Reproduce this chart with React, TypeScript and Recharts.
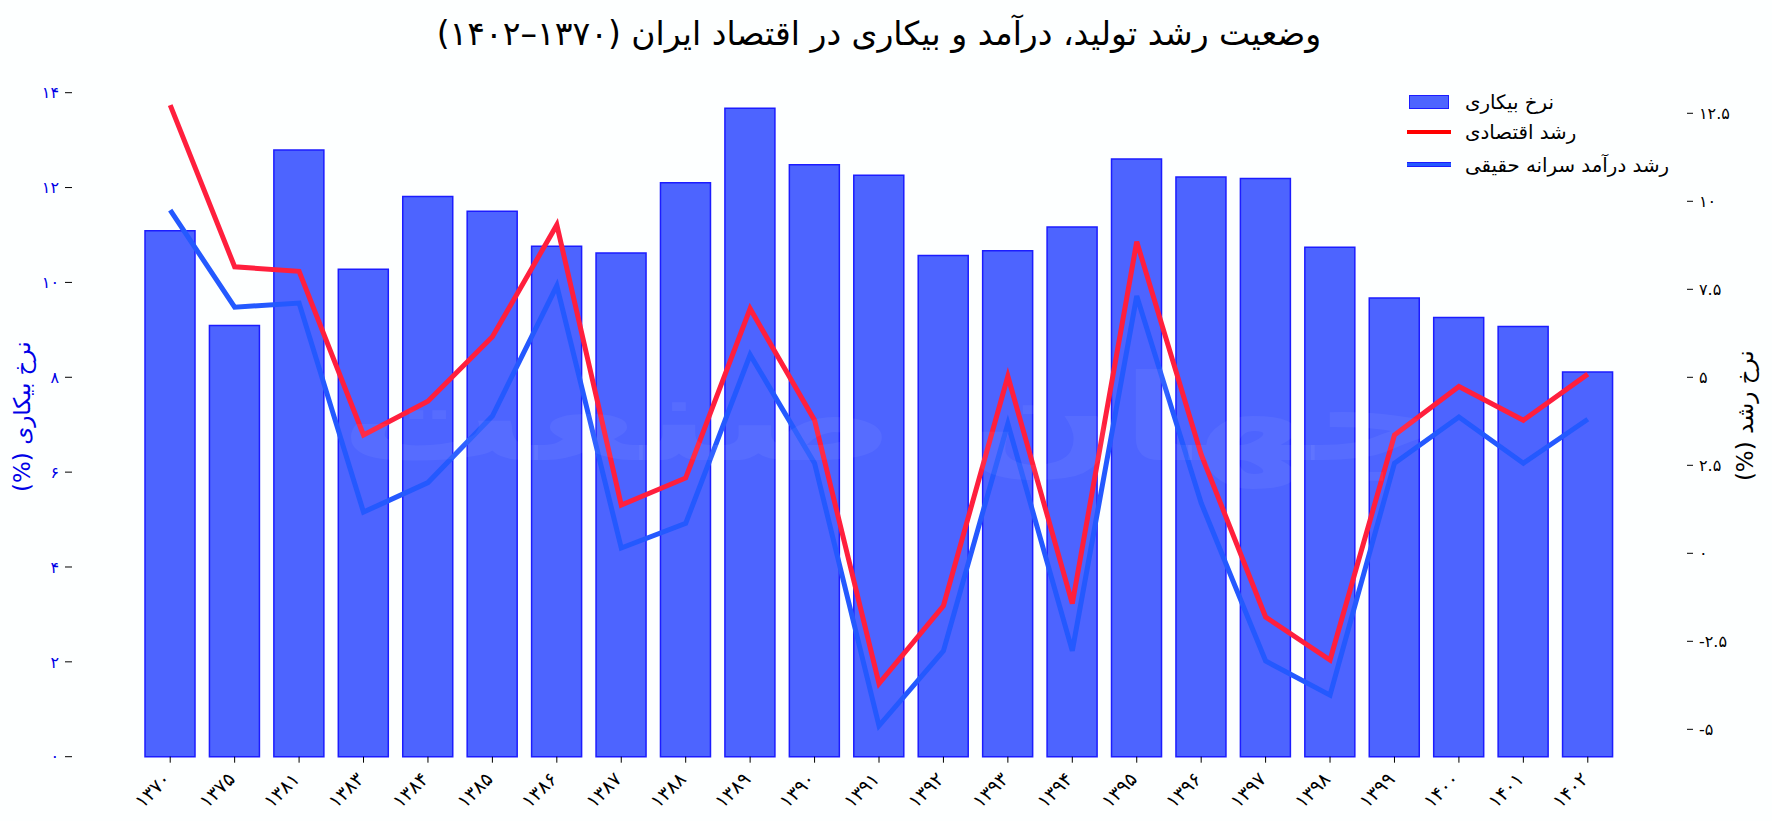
import { Bar, ComposedChart, Line, XAxis, YAxis } from 'recharts';

const years = ['۱۳۷۰', '۱۳۷۵', '۱۳۸۱', '۱۳۸۳', '۱۳۸۴', '۱۳۸۵', '۱۳۸۶', '۱۳۸۷', '۱۳۸۸', '۱۳۸۹', '۱۳۹۰', '۱۳۹۱', '۱۳۹۲', '۱۳۹۳', '۱۳۹۴', '۱۳۹۵', '۱۳۹۶', '۱۳۹۷', '۱۳۹۸', '۱۳۹۹', '۱۴۰۰', '۱۴۰۱', '۱۴۰۲'];
const unemployment = [11.09, 9.09, 12.79, 10.28, 11.81, 11.5, 10.76, 10.62, 12.1, 13.67, 12.48, 12.26, 10.57, 10.67, 11.17, 12.6, 12.22, 12.19, 10.74, 9.67, 9.26, 9.07, 8.11];
const growth = [12.73, 8.14, 8.01, 3.36, 4.32, 6.15, 9.33, 1.37, 2.14, 6.95, 3.78, -3.7, -1.49, 5.03, -1.43, 8.85, 2.81, -1.81, -3.03, 3.36, 4.74, 3.78, 5.09];
const income = [9.75, 6.99, 7.11, 1.17, 2.01, 3.9, 7.6, 0.15, 0.85, 5.64, 2.56, -4.9, -2.77, 3.68, -2.77, 7.31, 1.43, -3.06, -4.03, 2.56, 3.87, 2.56, 3.81];
const leftTicks = [0, 2, 4, 6, 8, 10, 12, 14];
const rightTicks = [-5, -2.5, 0, 2.5, 5, 7.5, 10, 12.5];

const chartData = years.map((year, i) => ({
  year,
  unemployment: unemployment[i],
  growth: growth[i],
  income: income[i],
}));

const font = '"DejaVu Sans", sans-serif';
const barFill = '#4d64ff';
const barStroke = '#1c1cff';
const redLine = '#ff1f3d';
const blueLine = '#2459ff';

const toFa = (value: number) =>
  String(value).replace(/\d/g, (d) => '۰۱۲۳۴۵۶۷۸۹'[Number(d)]);

function ChartLegend() {
  const rows = [
    { label: 'نرخ بیکاری', y: 1 },
    { label: 'رشد اقتصادی', y: 31 },
    { label: 'رشد درآمد سرانه حقیقی', y: 64 },
  ];
  return (
    <div style={{ position: 'absolute', left: 1407, top: 95, width: 270, height: 90, fontFamily: font, fontSize: 19.8 }}>
      <div style={{ position: 'absolute', left: 2, top: 0, width: 38, height: 12, background: barFill, border: `1px solid ${barStroke}` }} />
      <div style={{ position: 'absolute', left: 0, top: 35, width: 44, height: 4, background: '#ff0000' }} />
      <div style={{ position: 'absolute', left: 0, top: 67, width: 44, height: 5, background: blueLine, borderTop: `1px solid ${barStroke}`, borderBottom: `1px solid ${barStroke}`, boxSizing: 'border-box' }} />
      {rows.map((row) => (
        <div
          key={row.label}
          style={{ position: 'absolute', left: 58, top: row.y - 5, direction: 'rtl', whiteSpace: 'nowrap', color: '#000', lineHeight: '24px' }}
        >
          {row.label}
        </div>
      ))}
    </div>
  );
}

export default function App() {
  return (
    <div style={{ position: 'absolute', left: 0, top: 0, width: 1772, height: 821, background: '#fdffff' }}>
      <ComposedChart
        width={1772}
        height={821}
        data={chartData}
        margin={{ top: 92.7, right: 0, bottom: 0, left: 0 }}
        barCategoryGap={0}
        style={{ fontFamily: font }}
      >
        <text x={879} y={45} textAnchor="middle" direction="rtl" fontSize={33} fontFamily={font} fill="#000">
          وضعیت رشد تولید، درآمد و بیکاری در اقتصاد ایران (۱۳۷۰–۱۴۰۲)
        </text>
        <XAxis
          dataKey="year"
          height={64.3}
          interval={0}
          padding={{ left: 66, right: 67 }}
          axisLine={false}
          tickLine={{ stroke: '#000' }}
          tickSize={6}
          tickMargin={8}
          angle={-45}
          textAnchor="end"
          tick={{ fill: '#000', fontSize: 19, dx: -8 }}
        />
        <YAxis
          yAxisId="left"
          orientation="left"
          width={72}
          domain={[0, 14]}
          ticks={leftTicks}
          interval={0}
          tickFormatter={toFa}
          axisLine={false}
          tickLine={{ stroke: '#000' }}
          tickSize={7}
          tickMargin={6}
          tick={{ fill: '#0000e6', fontSize: 16 }}
          label={{ value: 'نرخ بیکاری (%)', angle: -90, position: 'insideLeft', offset: 0, dx: 22, dy: -8, fill: '#0000e6', fontSize: 23, direction: 'rtl', style: { textAnchor: 'middle' } }}
        />
        <YAxis
          yAxisId="right"
          orientation="right"
          width={85}
          domain={[-5.778, 13.085]}
          ticks={rightTicks}
          interval={0}
          tickFormatter={toFa}
          axisLine={false}
          tickLine={{ stroke: '#000' }}
          tickSize={6}
          tickMargin={6}
          tick={{ fill: '#000', fontSize: 16 }}
          label={{ value: 'نرخ رشد (%)', angle: -90, position: 'insideRight', offset: 0, dx: -27, dy: -9, fill: '#000', fontSize: 23, direction: 'rtl', style: { textAnchor: 'middle' } }}
        />
        <Bar
          yAxisId="left"
          dataKey="unemployment"
          barSize={50}
          fill={barFill}
          stroke={barStroke}
          strokeWidth={1.5}
          isAnimationActive={false}
        />
        <Line
          yAxisId="right"
          dataKey="income"
          stroke={blueLine}
          strokeWidth={5}
          strokeLinejoin="miter"
          strokeLinecap="butt"
          dot={false}
          activeDot={false}
          isAnimationActive={false}
        />
        <Line
          yAxisId="right"
          dataKey="growth"
          stroke={redLine}
          strokeWidth={5}
          strokeLinejoin="miter"
          strokeLinecap="butt"
          dot={false}
          activeDot={false}
          isAnimationActive={false}
        />
      </ComposedChart>
      <svg width={1772} height={821} style={{ position: 'absolute', left: 0, top: 0, pointerEvents: 'none' }}>
        <text transform="translate(893 460) scale(1.24 0.8)" textAnchor="middle" direction="rtl" fontSize={150} fontWeight="bold" fontFamily={font} fill="#ffffff" fillOpacity={0.055}>
          جهان صنعت
        </text>
      </svg>
      <ChartLegend />
    </div>
  );
}
